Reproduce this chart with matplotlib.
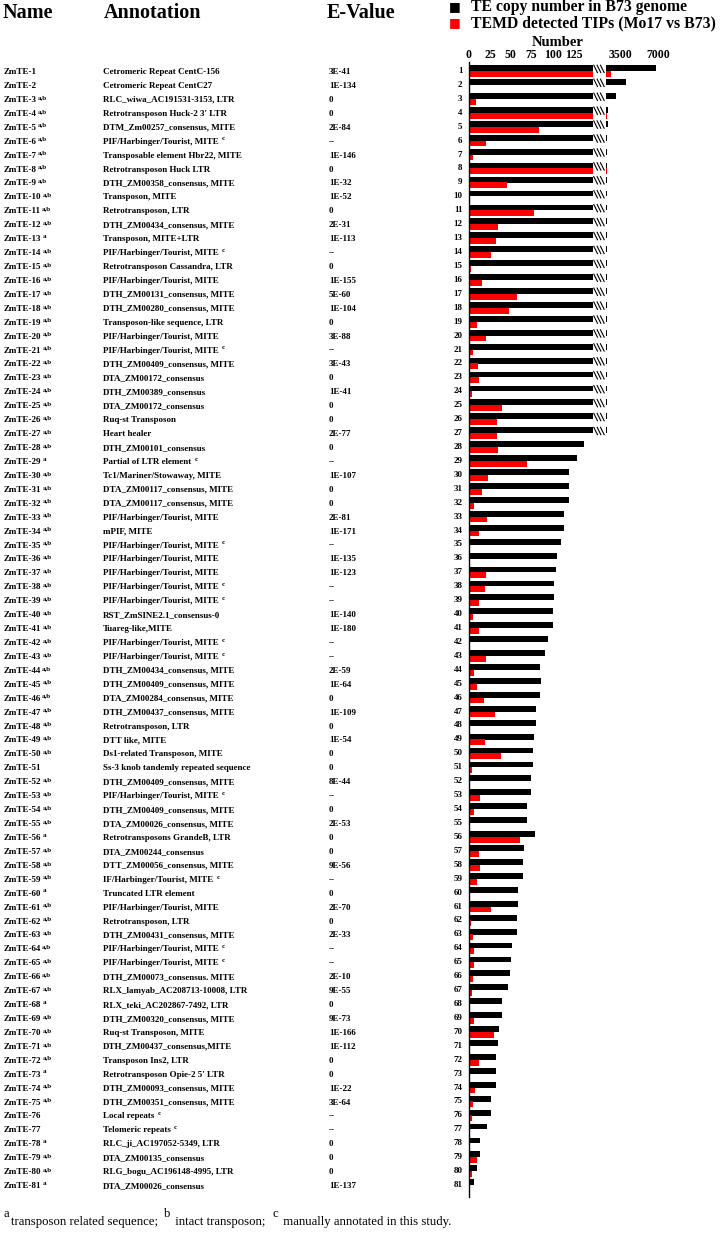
import numpy as np
import matplotlib
matplotlib.use("Agg")
import matplotlib.pyplot as plt
from matplotlib.transforms import blended_transform_factory, offset_copy

plt.rcParams['font.family'] = ['Liberation Serif', 'DejaVu Serif']

### Data
ids = list(range(1, 82))

name_marks = ["", "", "a,b", "a,b", "a,b", "a,b", "a,b", "a,b", "a,b", "a,b",
              "a,b", "a,b", "a", "a,b", "a,b", "a,b", "a,b", "a,b", "a,b", "a,b",
              "a,b", "a,b", "a,b", "a,b", "a,b", "a,b", "a,b", "a,b", "a", "a,b",
              "a,b", "a,b", "a,b", "a,b", "a,b", "a,b", "a,b", "a,b", "a,b", "a,b",
              "a,b", "a,b", "a,b", "a,b", "a,b", "a,b", "a,b", "a,b", "a,b", "a,b",
              "", "a,b", "a,b", "a,b", "a,b", "a", "a,b", "a,b", "a,b", "a",
              "a,b", "a,b", "a,b", "a,b", "a,b", "a,b", "a,b", "a", "a,b", "a,b",
              "a,b", "a,b", "a", "a,b", "a,b", "", "", "a", "a,b", "a,b",
              "a"]

annotations = [
    "Cetromeric Repeat CentC-156", "Cetromeric Repeat CentC27",
    "RLC_wiwa_AC191531-3153, LTR", "Retrotransposon Huck-2 3' LTR",
    "DTM_Zm00257_consensus, MITE", "PIF/Harbinger/Tourist, MITE",
    "Transposable element Hbr22, MITE", "Retrotransposon Huck LTR",
    "DTH_ZM00358_consensus, MITE", "Transposon, MITE",
    "Retrotransposon, LTR", "DTH_ZM00434_consensus, MITE",
    "Transposon, MITE+LTR", "PIF/Harbinger/Tourist, MITE",
    "Retrotransposon Cassandra, LTR", "PIF/Harbinger/Tourist, MITE",
    "DTH_ZM00131_consensus, MITE", "DTH_ZM00280_consensus, MITE",
    "Transposon-like sequence, LTR", "PIF/Harbinger/Tourist, MITE",
    "PIF/Harbinger/Tourist, MITE", "DTH_ZM00409_consensus, MITE",
    "DTA_ZM00172_consensus", "DTH_ZM00389_consensus",
    "DTA_ZM00172_consensus", "Ruq-st Transposon",
    "Heart healer", "DTH_ZM00101_consensus",
    "Partial of LTR element", "Tc1/Mariner/Stowaway, MITE",
    "DTA_ZM00117_consensus, MITE", "DTA_ZM00117_consensus, MITE",
    "PIF/Harbinger/Tourist, MITE", "mPIF, MITE",
    "PIF/Harbinger/Tourist, MITE", "PIF/Harbinger/Tourist, MITE",
    "PIF/Harbinger/Tourist, MITE", "PIF/Harbinger/Tourist, MITE",
    "PIF/Harbinger/Tourist, MITE", "RST_ZmSINE2.1_consensus-0",
    "Tuareg-like,MITE", "PIF/Harbinger/Tourist, MITE",
    "PIF/Harbinger/Tourist, MITE", "DTH_ZM00434_consensus, MITE",
    "DTH_ZM00409_consensus, MITE", "DTA_ZM00284_consensus, MITE",
    "DTH_ZM00437_consensus, MITE", "Retrotransposon, LTR",
    "DTT like, MITE", "Ds1-related Transposon, MITE",
    "Ss-3 knob tandemly repeated sequence", "DTH_ZM00409_consensus, MITE",
    "PIF/Harbinger/Tourist, MITE", "DTH_ZM00409_consensus, MITE",
    "DTA_ZM00026_consensus, MITE", "Retrotransposons GrandeB, LTR",
    "DTA_ZM00244_consensus", "DTT_ZM00056_consensus, MITE",
    "IF/Harbinger/Tourist, MITE", "Truncated LTR element",
    "PIF/Harbinger/Tourist, MITE", "Retrotransposon, LTR",
    "DTH_ZM00431_consensus, MITE", "PIF/Harbinger/Tourist, MITE",
    "PIF/Harbinger/Tourist, MITE", "DTH_ZM00073_consensus. MITE",
    "RLX_lamyab_AC208713-10008, LTR", "RLX_teki_AC202867-7492, LTR",
    "DTH_ZM00320_consensus, MITE", "Ruq-st Transposon, MITE",
    "DTH_ZM00437_consensus,MITE", "Transposon Ins2, LTR",
    "Retrotransposon Opie-2 5' LTR", "DTH_ZM00093_consensus, MITE",
    "DTH_ZM00351_consensus, MITE", "Local repeats",
    "Telomeric repeats", "RLC_ji_AC197052-5349, LTR",
    "DTA_ZM00135_consensus", "RLG_bogu_AC196148-4995, LTR",
    "DTA_ZM00026_consensus"]

# rows whose annotation carries footnote c
manual_rows = [6, 14, 21, 29, 35, 38, 39, 42, 43, 53, 59, 64, 65, 76, 77]

evalues = ["3E-41", "1E-134", "0", "0", "2E-84", "--", "1E-146", "0", "1E-32", "1E-52",
           "0", "2E-31", "1E-113", "--", "0", "1E-155", "5E-60", "1E-104", "0", "3E-88",
           "--", "3E-43", "0", "1E-41", "0", "0", "2E-77", "0", "--", "1E-107",
           "0", "0", "2E-81", "1E-171", "--", "1E-135", "1E-123", "--", "--", "1E-140",
           "1E-180", "--", "--", "2E-59", "1E-64", "0", "1E-109", "0", "1E-54", "0",
           "0", "8E-44", "--", "0", "2E-53", "0", "0", "9E-56", "--", "0",
           "2E-70", "0", "2E-33", "--", "--", "2E-10", "9E-55", "0", "9E-73", "1E-166",
           "1E-112", "0", "0", "1E-22", "3E-64", "--", "--", "0", "0", "0",
           "1E-137"]

# TE copy number in B73 genome
te_copy = [6815, 4050, 3130, 2440, 2400, 2300, 2300, 2300, 2300, 2300,
           2300, 2300, 2300, 2300, 2300, 2300, 2300, 2300, 2300, 2300,
           2300, 2300, 2300, 2300, 2300, 2300, 2300, 138, 129, 120,
           120, 119.5, 113.5, 113.5, 110, 105, 104, 102, 102, 101,
           100, 95, 91, 85, 86, 84.5, 80.5, 79.7, 77.7, 76.5,
           76.5, 74.5, 73.7, 69.7, 69.7, 78.5, 65.7, 65, 65, 59,
           59, 57.8, 57.8, 51.8, 49.8, 49, 47, 40, 39, 35.5,
           34.3, 32.7, 32.7, 32.7, 26, 26, 21.5, 13.5, 13.5, 10,
           5.6]

# TEMD detected TIPs (Mo17 vs B73)
tips = [2670, 0.6, 8.8, 2270, 84, 20, 5, 2270, 46, 0.6,
        78, 35, 32, 26, 2, 16, 57, 48, 9, 20,
        5, 11, 12, 3, 39, 33, 33, 35, 69, 23,
        16, 6, 22, 12, 0.6, 0.6, 20, 19, 12, 5,
        11.5, 0.6, 20, 6.4, 10, 17.5, 31, 0.6, 19, 38,
        3, 0.6, 13, 6.4, 0.6, 60.5, 12, 13, 10, 0.6,
        26, 2, 5, 5.6, 5.6, 5, 3.6, 0.6, 6.4, 30,
        0.6, 12, 0.6, 7, 5, 3, 0.6, 0.6, 9.5, 3,
        0.6]

left_ticks = [0, 25, 50, 75, 100, 125]
right_ticks = [3500, 7000]

footnote = [("a", True), ("transposon related sequence;  ", False),
            ("b", True), (" intact transposon;  ", False),
            ("c", True), (" manually annotated in this study.", False)]

LEFT_MAX = 148
RIGHT_MIN, RIGHT_MAX = 2210, 10868

### Figure
W, H = 725, 1233
fig = plt.figure(figsize=(W / 100, H / 100), dpi=100)
renderer = fig.canvas.get_renderer()

def fx(px):
    return px / W

def fy(py):
    return 1 - py / H

ax_top, ax_bot = 62, 1197
ax = fig.add_axes([fx(469), fy(ax_bot), fx(592.7) - fx(469), fy(ax_top) - fy(ax_bot)])
axr = fig.add_axes([fx(606), fy(ax_bot), fx(700) - fx(606), fy(ax_top) - fy(ax_bot)])

y = np.array(ids)
te = np.array(te_copy, dtype=float)
tp = np.array(tips, dtype=float)
bh = 0.42

ax.barh(y - 0.2, np.minimum(te, LEFT_MAX), height=bh, color="black")
ax.barh(y + 0.21, np.minimum(tp, LEFT_MAX), height=bh, color="#ff0000")
big_te = te > LEFT_MAX
big_tp = tp > LEFT_MAX
axr.barh(y[big_te] - 0.2, te[big_te] - RIGHT_MIN, left=RIGHT_MIN, height=bh, color="black")
axr.barh(y[big_tp] + 0.21, tp[big_tp] - RIGHT_MIN, left=RIGHT_MIN, height=bh, color="#ff0000")

ylim = (81.86, 0.354)
for a in (ax, axr):
    a.set_ylim(*ylim)
    a.set_yticks([])
    a.tick_params(axis="x", length=0, top=True, bottom=False,
                  labeltop=True, labelbottom=False, pad=1)
    for s in ("top", "right", "bottom"):
        a.spines[s].set_visible(False)
    a.patch.set_alpha(0)
axr.spines["left"].set_visible(False)
ax.spines["left"].set_linewidth(1.0)

ax.set_xlim(0, LEFT_MAX)
ax.set_xticks(left_ticks)
ax.set_xticklabels([str(t) for t in left_ticks], fontsize=8.5, fontweight="bold")
axr.set_xlim(RIGHT_MIN, RIGHT_MAX)
axr.set_xticks(right_ticks)
axr.set_xticklabels([str(t) for t in right_ticks], fontsize=8.5, fontweight="bold")

# break marks on the truncated rows
for i in y[big_te]:
    for k in range(3):
        x0 = LEFT_MAX + 1 + k * 4
        ax.plot([x0, x0 + 5], [i - 0.45, i + 0.15], color="black", lw=0.8,
                clip_on=False, solid_capstyle="butt")

# row numbers next to the bars
for i in ids:
    ax.text(-8, i, str(i), ha="right", va="center", fontsize=6.5, fontweight="bold")

fig.text(fx(558), fy(43), "Number", ha="center", va="center", fontsize=10.5, fontweight="bold")

# legend
fig.text(fx(455), fy(7), "■", ha="center", va="center", fontsize=9, color="black",
         family="DejaVu Sans")
fig.text(fx(471), fy(7), "TE copy number in B73 genome", ha="left", va="center",
         fontsize=11.3, fontweight="bold")
fig.text(fx(455), fy(23), "■", ha="center", va="center", fontsize=9, color="#ff0000",
         family="DejaVu Sans")
fig.text(fx(471), fy(23), "TEMD detected TIPs (Mo17 vs B73)", ha="left", va="center",
         fontsize=11.3, fontweight="bold")

# table headers
fig.text(fx(3), fy(13), "Name", ha="left", va="center", fontsize=14.5, fontweight="bold")
fig.text(fx(104), fy(13), "Annotation", ha="left", va="center", fontsize=14.5, fontweight="bold")
fig.text(fx(327), fy(13), "E-Value", ha="left", va="center", fontsize=14.5, fontweight="bold")

# table rows: base text on a common baseline, superscripts added after it
trans = blended_transform_factory(fig.transFigure, ax.transData)
base = 0.22

def row_text(xpx, row, s, sup=""):
    t = fig.text(fx(xpx), row + base, s, transform=trans, ha="left", va="baseline",
                 fontsize=6.5, fontweight="bold")
    if sup:
        w = t.get_window_extent(renderer).width
        tr = offset_copy(trans, fig=fig, x=(w + 1) * 0.72, y=3.2 * 0.72, units="points")
        fig.text(fx(xpx), row + base, sup, transform=tr, ha="left", va="baseline",
                 fontsize=5, fontweight="bold")

for i in ids:
    row_text(4, i, "ZmTE-%d" % i, name_marks[i - 1])
    ann = annotations[i - 1]
    if i in manual_rows:
        row_text(103, i, ann + " ", "c")
    else:
        row_text(103, i, ann)
    row_text(329, i, evalues[i - 1])

# footnote, written piece by piece so the raised letters keep full size
xpos = 3
for piece, raised in footnote:
    ypix = 1217 if raised else 1225
    t = fig.text(fx(xpos), fy(ypix), piece, ha="left", va="baseline",
                 fontsize=9.0 if raised else 9.2)
    xpos += t.get_window_extent(renderer).width + (2 if raised else 0)

fig.savefig("out.png", dpi=100)
